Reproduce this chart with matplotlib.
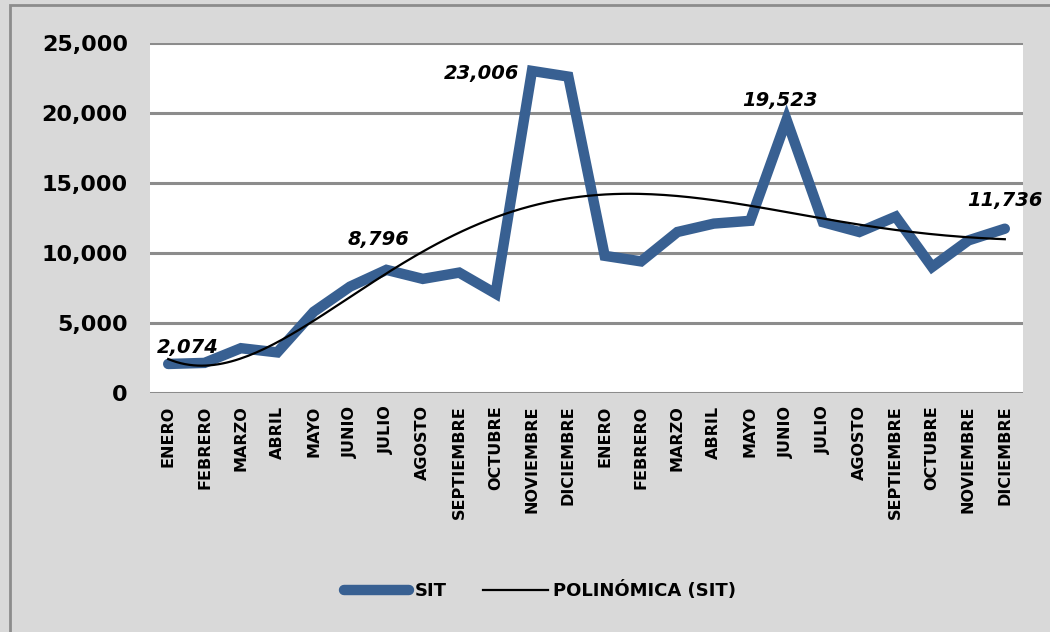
import numpy as np
import matplotlib
matplotlib.use("Agg")
import matplotlib.pyplot as plt
from matplotlib.patches import Rectangle
from matplotlib.lines import Line2D

months = ["Enero", "Febrero", "Marzo", "Abril", "Mayo", "Junio", "Julio",
          "Agosto", "Septiembre", "Octubre", "Noviembre", "Diciembre",
          "Enero", "Febrero", "Marzo", "Abril", "Mayo", "Junio", "Julio",
          "Agosto", "Septiembre", "Octubre", "Noviembre", "Diciembre"]
sit = [2074, 2150, 3200, 2900, 5800, 7600, 8796, 8150, 8600, 7100, 23006, 22600,
       9800, 9400, 11500, 12100, 12300, 19523, 12200, 11500, 12600, 9000, 10900, 11736]
yticks = [0, 5000, 10000, 15000, 20000, 25000]
labeled = {0: (14, 12), 6: (-6, 22), 10: (-36, -2), 17: (-5, 14), 23: (0, 20)}
poly_order = 6

BLUE = "#386092"
BG = "#D9D9D9"
GRID = "#8C8C8C"

fig = plt.figure(figsize=(10.5, 6.32), dpi=100, facecolor=BG)
# outer frame
fig.patches.append(Rectangle((10 / 1050, -0.05), 1.2, 1 - 5 / 632 + 0.05,
                             transform=fig.transFigure, facecolor="none",
                             edgecolor="#8C8C8C", linewidth=2, zorder=-10))

ax = fig.add_axes([150 / 1050, 1 - 393 / 632, 873 / 1050, 350 / 632])
ax.set_facecolor("white")
x = np.arange(len(sit))
ax.set_xlim(-0.5, len(sit) - 0.5)
ax.set_ylim(0, 25000)

for yv in yticks:
    ax.axhline(yv, color=GRID, lw=2.2, zorder=1)

ax.plot(x, sit, color=BLUE, lw=7.5, solid_joinstyle="miter", solid_capstyle="round",
        zorder=3, label="SIT")

coef = np.polyfit(x, sit, poly_order)
xf = np.linspace(0, len(sit) - 1, 200)
ax.plot(xf, np.polyval(coef, xf), color="black", lw=1.6, zorder=4,
        label="Polinómica (SIT)")

for i, (dx, dy) in labeled.items():
    ax.annotate(f"{sit[i]:,}", (x[i], sit[i]), xytext=(dx, dy),
                textcoords="offset points", ha="center", va="center",
                fontsize=14, fontweight="bold", fontstyle="italic", zorder=5,
                annotation_clip=False)

for s in ax.spines.values():
    s.set_visible(False)
ax.set_yticks(yticks)
ax.set_yticklabels([f"{v:,}" for v in yticks], fontsize=16, fontweight="bold")
ax.set_xticks(x)
ax.set_xticklabels([m.upper() for m in months], rotation=90, fontsize=11.5,
                   fontweight="bold", va="top")
ax.tick_params(axis="both", length=0)
ax.tick_params(axis="y", pad=16)
ax.tick_params(axis="x", pad=9)

handles = [Line2D([], [], color=BLUE, lw=7.5, solid_capstyle="round"),
           Line2D([], [], color="black", lw=1.6)]
fig.legend(handles, ["SIT", "POLINÓMICA (SIT)"], loc="center",
           bbox_to_anchor=(540 / 1050, 1 - 591 / 632), ncol=2, frameon=False,
           handlelength=3.6, columnspacing=2.0, handletextpad=0.3,
           prop={"size": 13, "weight": "bold"})

fig.savefig("out.png", dpi=100, facecolor=BG)
